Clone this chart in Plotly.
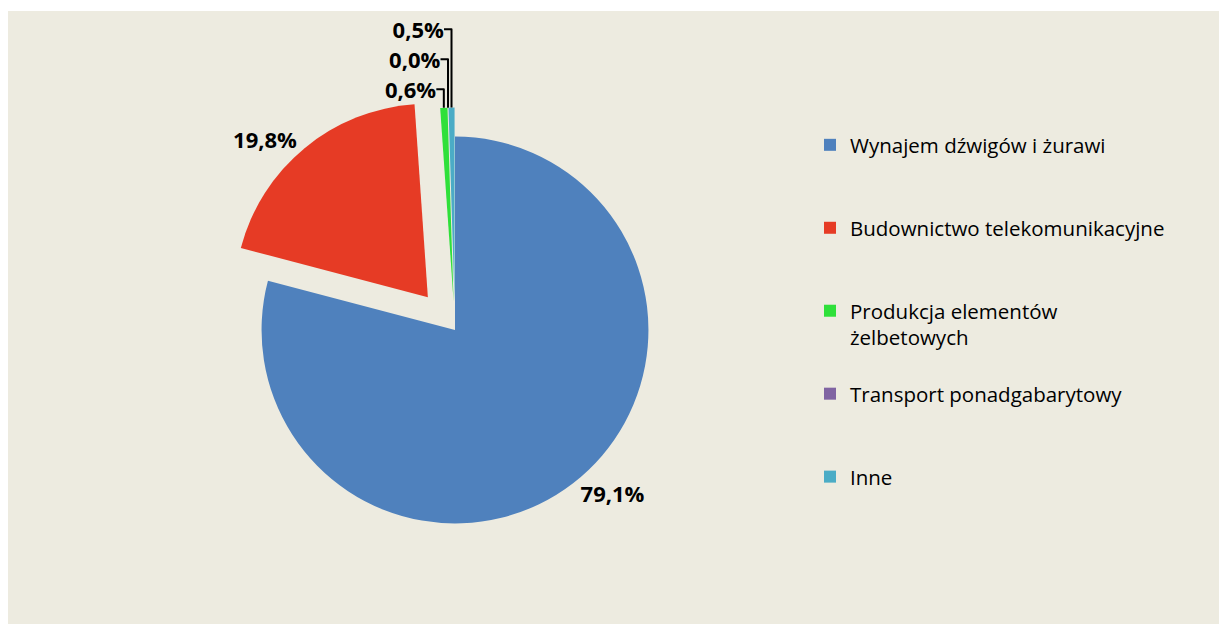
import plotly.graph_objects as go

categories = [
    "Wynajem dźwigów i żurawi",
    "Budownictwo telekomunikacyjne",
    "Produkcja elementów<br>żelbetowych",
    "Transport ponadgabarytowy",
    "Inne",
]
shares = [79.1, 19.8, 0.6, 0.0, 0.5]
colors = ["#4F81BD", "#E63B25", "#2FE03A", "#8064A2", "#4BACC6"]
pulls = [0, 0.22, 0.15, 0.15, 0.15]

# pad legend labels to equal line count so items are evenly spaced
legend_labels = []
for c in categories:
    n = c.count("<br>") + 1
    legend_labels.append(c + "<br> " * (3 - n))

W, H = 1227, 624
OFF = 8  # page body margin shifts the figure by this many px
cx, cy, half = 455 - OFF, 330 - OFF, 236  # pie domain centre / half-size in px

fig = go.Figure()
fig.add_trace(go.Pie(
    labels=legend_labels,
    values=shares,
    sort=False,
    direction="clockwise",
    rotation=0,
    pull=pulls,
    marker=dict(colors=colors, line=dict(width=0)),
    texttemplate="<b>%{percent:.1%}</b>",
    textposition="outside",
    textfont=dict(family="Open Sans", size=22, color="#000000"),
    domain=dict(x=[(cx - half) / W, (cx + half) / W],
                y=[(H - cy - half) / H, (H - cy + half) / H]),
    hoverinfo="label+percent",
))

fig.update_layout(
    width=W, height=H,
    separators=",.",
    paper_bgcolor="#FFFFFF",
    plot_bgcolor="#EDEBE0",
    margin=dict(l=0, r=0, t=0, b=0, autoexpand=False),
    showlegend=True,
    legend=dict(
        x=(810 - OFF) / W, y=1 - (125 - OFF) / H, xanchor="left", yanchor="top",
        font=dict(family="Open Sans", size=20.5, color="#000000"),
        valign="top", bgcolor="rgba(0,0,0,0)",
        itemclick=False,
    ),
    shapes=[dict(
        type="rect", xref="paper", yref="paper",
        x0=0, x1=1, y0=0, y1=1 - 3 / H,
        fillcolor="#EDEBE0", line=dict(width=0), layer="below",
    )],
)

fig.write_html("out.html")
